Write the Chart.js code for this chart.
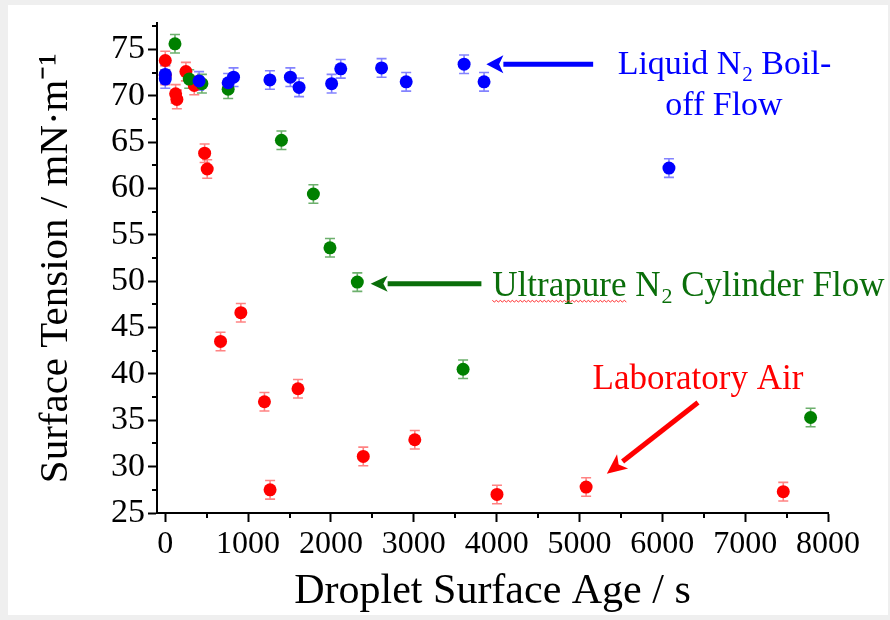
<!DOCTYPE html>
<html>
<head>
<meta charset="utf-8">
<script src="https://cdn.jsdelivr.net/npm/chart.js@4.4.0/dist/chart.umd.min.js"></script>
<style>
html,body{margin:0;padding:0;background:#efefef;}
#wrap{width:890px;height:620px;position:relative;}
</style>
</head>
<body>
<div id="wrap"><canvas id="c" width="890" height="620"></canvas></div>
<script>
// ---------- data ----------
const xTickValues = [0, 1000, 2000, 3000, 4000, 5000, 6000, 7000, 8000];
const xMinorTickValues = [500, 1500, 2500, 3500, 4500, 5500, 6500, 7500];
const yTickValues = [25, 30, 35, 40, 45, 50, 55, 60, 65, 70, 75];
const yMinorTickValues = [27.5, 32.5, 37.5, 42.5, 47.5, 52.5, 57.5, 62.5, 67.5, 72.5, 77.5];

const xAxisTitle = 'Droplet Surface Age / s';
const yAxisTitle = 'Surface Tension / mN\u00B7m\u207B\u00B9';

const seriesNames = ['Liquid N2 Boil-off Flow', 'Ultrapure N2 Cylinder Flow', 'Laboratory Air'];

const liquidN2Age     = [0, 0, 408, 759, 824, 1263, 1510, 1615, 2008, 2118, 2611, 2908, 3607, 3848, 6080];
const liquidN2Tension = [72.3, 71.8, 71.6, 71.4, 72.0, 71.7, 72.0, 70.9, 71.3, 72.9, 73.0, 71.5, 73.4, 71.5, 62.2];
const liquidN2Error   = [1.0, 1.0, 1.0, 1.0, 1.0, 1.0, 1.0, 1.0, 1.0, 1.0, 1.0, 1.0, 1.0, 1.0, 1.0];

const ultrapureAge     = [117, 289, 442, 759, 1402, 1788, 1988, 2318, 3595, 7790];
const ultrapureTension = [75.6, 71.8, 71.3, 70.7, 65.2, 59.4, 53.6, 49.9, 40.5, 35.3];
const ultrapureError   = [1.0, 1.0, 1.0, 1.0, 1.0, 1.0, 1.0, 1.0, 1.0, 1.0];

const labAirAge     = [0, 0, 125, 140, 249, 350, 475, 506, 667, 912, 1197, 1265, 1602, 2390, 3012, 4004, 5080, 7460];
const labAirTension = [73.8, 72.2, 70.2, 69.6, 72.6, 71.1, 63.8, 62.1, 43.5, 46.6, 37.0, 27.5, 38.4, 31.1, 32.9, 27.0, 27.8, 27.3];
const labAirError   = [1.0, 1.0, 1.0, 1.0, 1.0, 1.0, 1.0, 1.0, 1.0, 1.0, 1.0, 1.0, 1.0, 1.0, 1.0, 1.0, 1.0, 1.0];

// annotation anchors in data units
const blueArrow  = {tip: [3876, 73.39], tail: [5165, 73.39]};
const blueLabel  = {center: 6744, line1: 72.32, line2: 67.89};
const greenArrow = {tip: [2479, 49.72], tail: [3816, 49.72]};
const greenLabel = {left: 3948, base: 48.36};
const redArrow   = {tip: [5330, 29.23], tail: [6430, 36.91]};
const redLabel   = {center: 6430, base: 38.38};

// ---------- helpers ----------
const SERIF = '"Liberation Serif", "Times New Roman", serif';
function pts(xs, ys) { return xs.map((x, i) => ({x: x, y: ys[i]})); }

const frame = {
  id: 'frame',
  beforeDraw(chart) {
    const ctx = chart.ctx;
    ctx.save();
    ctx.fillStyle = '#efefef';
    ctx.fillRect(0, 0, chart.width, chart.height);
    ctx.fillStyle = '#ffffff';
    ctx.fillRect(8, 5, chart.width - 10, chart.height - 10);
    ctx.restore();
  }
};

const errorBars = {
  id: 'errorBars',
  beforeDatasetsDraw(chart) {
    const ctx = chart.ctx;
    const xs = chart.scales.x, ys = chart.scales.y;
    ctx.save();
    for (let d = chart.data.datasets.length - 1; d >= 0; d--) {
      const ds = chart.data.datasets[d];
      ctx.strokeStyle = ds.errorColor;
      ctx.lineWidth = 1.6;
      ds.data.forEach((p, i) => {
        const e = ds.errors[i];
        const px = xs.getPixelForValue(p.x);
        const y1 = ys.getPixelForValue(p.y + e);
        const y2 = ys.getPixelForValue(p.y - e);
        ctx.beginPath();
        ctx.moveTo(px, y1); ctx.lineTo(px, y2);
        ctx.moveTo(px - 5, y1); ctx.lineTo(px + 5, y1);
        ctx.moveTo(px - 5, y2); ctx.lineTo(px + 5, y2);
        ctx.stroke();
      });
    }
    ctx.restore();
  }
};

const minorTicks = {
  id: 'minorTicks',
  afterDraw(chart) {
    const ctx = chart.ctx;
    const xs = chart.scales.x, ys = chart.scales.y;
    const area = chart.chartArea;
    ctx.save();
    ctx.strokeStyle = '#000';
    ctx.lineWidth = 2;
    ctx.beginPath();
    xMinorTickValues.forEach(v => {
      const px = Math.round(xs.getPixelForValue(v));
      ctx.moveTo(px, area.bottom); ctx.lineTo(px, area.bottom + 5);
    });
    yMinorTickValues.forEach(v => {
      const py = Math.round(ys.getPixelForValue(v));
      ctx.moveTo(area.left - 5, py); ctx.lineTo(area.left, py);
    });
    ctx.stroke();
    ctx.restore();
  }
};

function drawArrow(ctx, x1, y1, x2, y2, color, width, headLen, headHalf) {
  const ang = Math.atan2(y2 - y1, x2 - x1);
  const bx = x2 - headLen * Math.cos(ang), by = y2 - headLen * Math.sin(ang);
  ctx.save();
  ctx.strokeStyle = color; ctx.fillStyle = color;
  ctx.lineWidth = width; ctx.lineCap = 'butt';
  ctx.beginPath(); ctx.moveTo(x1, y1); ctx.lineTo(bx, by); ctx.stroke();
  ctx.beginPath();
  ctx.moveTo(x2, y2);
  ctx.lineTo(bx + headHalf * Math.sin(ang), by - headHalf * Math.cos(ang));
  ctx.lineTo(bx + headLen * 0.25 * Math.cos(ang), by + headLen * 0.25 * Math.sin(ang));
  ctx.lineTo(bx - headHalf * Math.sin(ang), by + headHalf * Math.cos(ang));
  ctx.closePath(); ctx.fill();
  ctx.restore();
}

function subText(ctx, parts, x, y, size, align) {
  const big = size + 'px ' + SERIF, small = Math.round(size * 0.62) + 'px ' + SERIF;
  ctx.font = big; const w1 = ctx.measureText(parts[0]).width, w3 = ctx.measureText(parts[2]).width;
  ctx.font = small; const w2 = ctx.measureText(parts[1]).width;
  const total = w1 + w2 + w3;
  let sx = align === 'center' ? x - total / 2 : x;
  ctx.textAlign = 'left'; ctx.textBaseline = 'alphabetic';
  ctx.font = big; ctx.fillText(parts[0], sx, y);
  ctx.font = small; ctx.fillText(parts[1], sx + w1 + 1, y + size * 0.2);
  ctx.font = big; ctx.fillText(parts[2], sx + w1 + w2 + 1, y);
  return {left: sx, width: total, w1: w1};
}

const annotations = {
  id: 'annotations',
  afterDraw(chart) {
    const ctx = chart.ctx;
    const X = v => chart.scales.x.getPixelForValue(v);
    const Y = v => chart.scales.y.getPixelForValue(v);
    ctx.save();
    drawArrow(ctx, X(blueArrow.tail[0]), Y(blueArrow.tail[1]), X(blueArrow.tip[0]), Y(blueArrow.tip[1]), '#0000ff', 5, 17, 9);
    ctx.fillStyle = '#0000ff';
    subText(ctx, ['Liquid N', '2', ' Boil-'], X(blueLabel.center), Y(blueLabel.line1), 34, 'center');
    ctx.font = '34px ' + SERIF; ctx.textAlign = 'center'; ctx.textBaseline = 'alphabetic';
    ctx.fillText('off Flow', X(blueLabel.center), Y(blueLabel.line2));

    drawArrow(ctx, X(greenArrow.tail[0]), Y(greenArrow.tail[1]), X(greenArrow.tip[0]), Y(greenArrow.tip[1]), '#0a6e0a', 5, 17, 8);
    ctx.fillStyle = '#0a6e0a';
    const g = subText(ctx, ['Ultrapure N', '2', ' Cylinder Flow'], X(greenLabel.left), Y(greenLabel.base), 35, 'left');
    ctx.font = '35px ' + SERIF;
    const uw = ctx.measureText('Ultrapure').width;
    ctx.strokeStyle = '#ff3030'; ctx.lineWidth = 1;
    ctx.beginPath();
    const sy = Y(greenLabel.base) + 4;
    for (let i = 0; i <= uw; i += 2) {
      const yy = sy + ((i / 2) % 2 === 0 ? 0 : 1.6);
      if (i === 0) ctx.moveTo(g.left + i, yy); else ctx.lineTo(g.left + i, yy);
    }
    ctx.stroke();

    drawArrow(ctx, X(redArrow.tail[0]), Y(redArrow.tail[1]), X(redArrow.tip[0]), Y(redArrow.tip[1]), '#ff0000', 5, 20, 9);
    ctx.fillStyle = '#ff0000';
    ctx.font = '35px ' + SERIF; ctx.textAlign = 'center'; ctx.textBaseline = 'alphabetic';
    ctx.fillText('Laboratory Air', X(redLabel.center), Y(redLabel.base));
    ctx.restore();
  }
};

new Chart(document.getElementById('c'), {
  type: 'scatter',
  data: {
    datasets: [
      {label: seriesNames[0], data: pts(liquidN2Age, liquidN2Tension), errors: liquidN2Error,
       backgroundColor: '#0000ff', borderColor: '#0000ff', errorColor: 'rgba(90,90,255,0.75)'},
      {label: seriesNames[1], data: pts(ultrapureAge, ultrapureTension), errors: ultrapureError,
       backgroundColor: '#008000', borderColor: '#008000', errorColor: 'rgba(60,150,60,0.75)'},
      {label: seriesNames[2], data: pts(labAirAge, labAirTension), errors: labAirError,
       backgroundColor: '#ff0000', borderColor: '#ff0000', errorColor: 'rgba(255,90,90,0.75)'}
    ]
  },
  options: {
    responsive: false,
    animation: false,
    devicePixelRatio: 1,
    layout: {padding: {top: 21, right: 62, left: 0, bottom: 0}},
    elements: {point: {radius: 6.5, hoverRadius: 6.5, borderWidth: 0}},
    plugins: {legend: {display: false}, tooltip: {enabled: false}},
    scales: {
      x: {
        type: 'linear', min: -100, max: 8000,
        afterBuildTicks: s => { s.ticks = xTickValues.map(v => ({value: v})); },
        afterFit: s => { s.height = 107; },
        ticks: {color: '#000', font: {family: SERIF, size: 32}, padding: 3, maxRotation: 0, autoSkip: false,
                callback: v => String(v)},
        grid: {drawOnChartArea: false, tickLength: 9, tickWidth: 2, tickColor: '#000'},
        border: {color: '#000', width: 2},
        title: {display: true, text: xAxisTitle, color: '#000', font: {family: SERIF, size: 42}, padding: {top: 0, bottom: 3}}
      },
      y: {
        type: 'linear', min: 25, max: 77.8,
        afterBuildTicks: s => { s.ticks = yTickValues.map(v => ({value: v})); },
        afterFit: s => { s.width = 157; },
        ticks: {color: '#000', font: {family: SERIF, size: 34}, padding: 3, autoSkip: false,
                callback: v => String(v)},
        grid: {drawOnChartArea: false, tickLength: 9, tickWidth: 2, tickColor: '#000'},
        border: {color: '#000', width: 2},
        title: {display: true, text: yAxisTitle, color: '#000', font: {family: SERIF, size: 41}, padding: {top: 32, bottom: 0}}
      }
    }
  },
  plugins: [frame, errorBars, minorTicks, annotations]
});
</script>
</body>
</html>
